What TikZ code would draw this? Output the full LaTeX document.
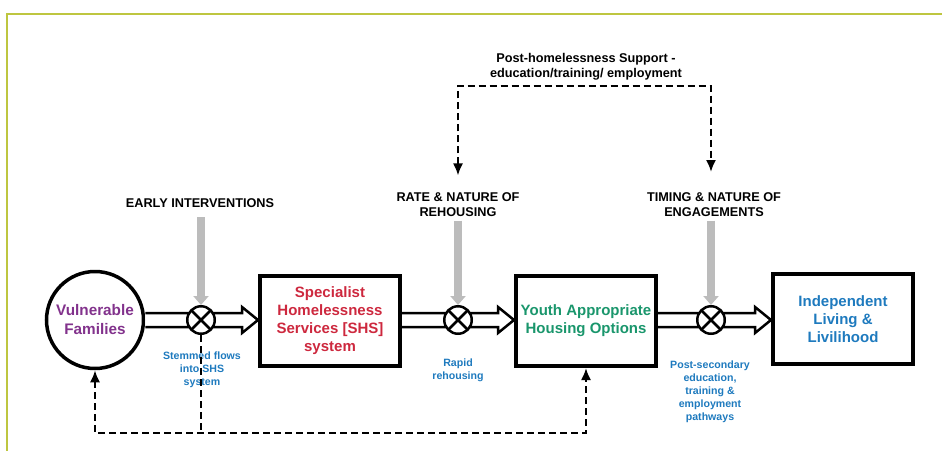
\documentclass[tikz,border=0pt]{standalone}
\usepackage{fontspec}
\setmainfont{Liberation Sans}
\usetikzlibrary{arrows.meta,calc}
\definecolor{frameyel}{RGB}{190,198,64}
\definecolor{vfpurple}{RGB}{130,50,140}
\definecolor{shsred}{RGB}{205,40,62}
\definecolor{yahgreen}{RGB}{26,150,108}
\definecolor{illblue}{RGB}{30,122,190}
\definecolor{flowgrey}{RGB}{188,188,188}

\tikzset{
  box/.style={draw, line width=4pt, minimum width=140pt, minimum height=90pt, align=center,
    font=\fontsize{15}{18}\selectfont\bfseries},
  otimes/.style={draw, circle, line width=2.5pt, minimum size=27.5pt, inner sep=0pt, fill=white,
    path picture={\draw[line width=2.5pt] (path picture bounding box.south west) -- (path picture bounding box.north east)
      (path picture bounding box.north west) -- (path picture bounding box.south east);}},
  caption/.style={align=center, font=\fontsize{12.7}{15}\selectfont\bfseries},
  note/.style={align=center, text=illblue, font=\fontsize{10.6}{13}\selectfont\bfseries},
  flow/.style={line width=8pt, flowgrey, -{Triangle[width=15pt,length=9pt]}},
  feedback/.style={line width=2pt, dash pattern=on 7pt off 4pt},
  tips/.style={{Latex[length=12pt,width=10pt]}-{Latex[length=12pt,width=10pt]}},
}

% double-lined (hollow) arrow between two anchors
\newcommand\hollowarrow[2]{%
  \draw[line width=2.5pt, fill=white, line join=miter]
    ($(#1)+(0,-7)$) -- ($(#2)+(-16,-7)$) -- ($(#2)+(-16,-13)$) -- (#2)
    -- ($(#2)+(-16,13)$) -- ($(#2)+(-16,7)$) -- ($(#1)+(0,7)$);}

\begin{document}
\begin{tikzpicture}[x=1pt, y=-1pt]
\useasboundingbox (0,0) rectangle (942,450);
\draw[frameyel, line width=2pt] (7,452) -- (7,14) -- (944,14);

% stages
\node[draw, circle, line width=3.5pt, minimum size=97pt, align=center, text=vfpurple,
  font=\fontsize{15.3}{19}\selectfont\bfseries] (vf) at (95,320) {Vulnerable\\Families};
\node[box, text=shsred] (shs) at (330,321) {Specialist\\Homelessness\\Services [SHS]\\system};
\node[box, text=yahgreen] (yaho) at (586,321) {Youth Appropriate\\Housing Options};
\node[box, text=illblue] (ill) at (843,319) {Independent\\Living \&\\Livilihood};

\hollowarrow{vf.east |- 0,320}{shs.west |- 0,320}
\hollowarrow{shs.east |- 0,320}{yaho.west |- 0,320}
\hollowarrow{yaho.east |- 0,320}{ill.west |- 0,320}

\node[otimes] (x1) at (201,320) {};
\node[otimes] (x2) at (458,320) {};
\node[otimes] (x3) at (711,320) {};

% levers
\node[caption] (early) at (200,203) {EARLY INTERVENTIONS};
\node[caption] (rate) at (458,205) {RATE \& NATURE OF\\REHOUSING};
\node[caption] (timing) at (714,205) {TIMING \& NATURE OF\\ENGAGEMENTS};
\node[caption] (post) at (586,67) {Post-homelessness Support -\\education/training/ employment};

\draw[flow] ([yshift=-6pt]x1.north |- early.south) -- (x1.north);
\draw[flow] (rate.south) -- (x2.north);
\draw[flow] (x3.north |- timing.south) -- (x3.north);

% outcomes
\node[note] (stem) at (202,370) {Stemmed flows\\into SHS\\system};
\node[note] (rapid) at (458,370) {Rapid\\rehousing};
\node[note] (postsec) at (710,392) {Post-secondary\\education,\\training \&\\employment\\pathways};

% feedback loops
\coordinate (top) at (0,86);
\coordinate (low) at (0,433);
\draw[feedback, tips] ([yshift=14pt]rate.north) -- (rate.north |- top) -| (x3.north |- 0,172);
\draw[feedback, tips] (vf.south) |- (yaho.south |- low) -- (yaho.south);
\draw[feedback] (x1.south) -- (x1.south |- low);
\end{tikzpicture}
\end{document}
